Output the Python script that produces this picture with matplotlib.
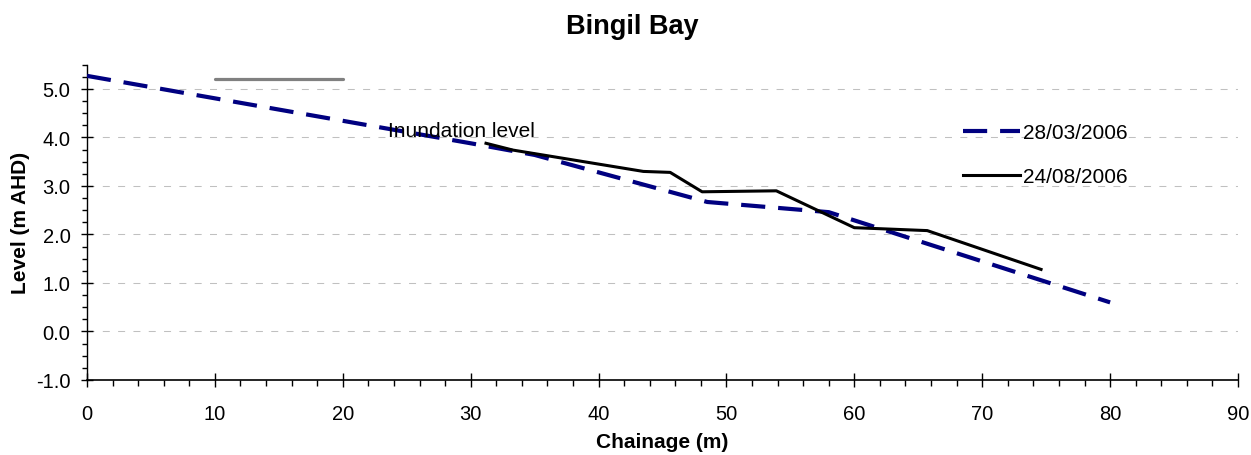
import numpy as np
import matplotlib.pyplot as plt
from matplotlib.ticker import MultipleLocator, FormatStrFormatter

plt.rcParams['font.family'] = ['Liberation Sans', 'DejaVu Sans']

# survey profiles
chain_mar = [0, 30, 35, 48.5, 58, 80]
level_mar = [5.27, 3.88, 3.64, 2.67, 2.46, 0.60]
chain_aug = [31.2, 33.3, 43.5, 45.6, 48.1, 53.9, 60.0, 65.7, 74.6]
level_aug = [3.88, 3.74, 3.30, 3.28, 2.88, 2.90, 2.14, 2.08, 1.28]
inund_x = [10, 20]
inund_y = [5.21, 5.21]
labels = ['28/03/2006', '24/08/2006']

fig = plt.figure(figsize=(12.51, 4.56), dpi=100)
ax = fig.add_axes([87 / 1251, 1 - 381 / 456, 1151 / 1251, 315.3 / 456])

# gridlines (drawn first so data sits on top)
for g in np.arange(0, 5.01, 1.0):
    ax.axhline(g, color='#c0c0c0', lw=0.75, dashes=(6.7, 8), zorder=0)

ax.plot(inund_x, inund_y, color='#808080', lw=2.3, solid_capstyle='round', zorder=2)
ax.plot(chain_mar, level_mar, color='#000080', lw=3, dashes=(5.8, 3.1),
        label=labels[0], zorder=3)
ax.plot(chain_aug, level_aug, color='black', lw=2.2, label=labels[1], zorder=4)

ax.text(23.5, 4.15, 'Inundation level', fontsize=15, va='center', ha='left')

ax.set_xlim(0, 90)
ax.set_ylim(-1.0, 5.5)
ax.xaxis.set_major_locator(MultipleLocator(10))
ax.xaxis.set_minor_locator(MultipleLocator(2))
ax.yaxis.set_major_locator(MultipleLocator(1))
ax.yaxis.set_minor_locator(MultipleLocator(0.25))
ax.yaxis.set_major_formatter(FormatStrFormatter('%.1f'))

ax.tick_params(axis='x', which='major', direction='inout', length=9.4, width=1,
               labelsize=14.5, pad=12.5)
ax.tick_params(axis='x', which='minor', direction='out', length=4.3, width=1)
ax.tick_params(axis='y', which='major', direction='inout', length=8.6, width=1,
               labelsize=14.5, pad=7.6)
ax.tick_params(axis='y', which='minor', direction='out', length=3.6, width=1)

for s in ['top', 'right']:
    ax.spines[s].set_visible(False)
ax.spines['bottom'].set_linewidth(1.2)
ax.spines['left'].set_linewidth(1)

ax.set_xlabel('Chainage (m)', fontsize=15, fontweight='bold', va='center')
ax.set_ylabel('Level (m AHD)', fontsize=15, fontweight='bold', va='center')
ax.xaxis.set_label_coords(0.5, -(443 - 381) / 315.3)
ax.yaxis.set_label_coords(-(87 - 21) / 1151, 0.5)

leg = ax.legend(loc='upper left', bbox_to_anchor=((963 - 87) / 1151, 1 - (124.5 - 65.7) / 315.3),
                frameon=False, fontsize=15, handlelength=2.75, handletextpad=0.15,
                labelspacing=1.2, borderpad=0, borderaxespad=0)

fig.text(632 / 1251, 1 - 27 / 456, 'Bingil Bay', fontsize=19.5, fontweight='bold',
         ha='center', va='center')

fig.savefig('out.png', dpi=100)
